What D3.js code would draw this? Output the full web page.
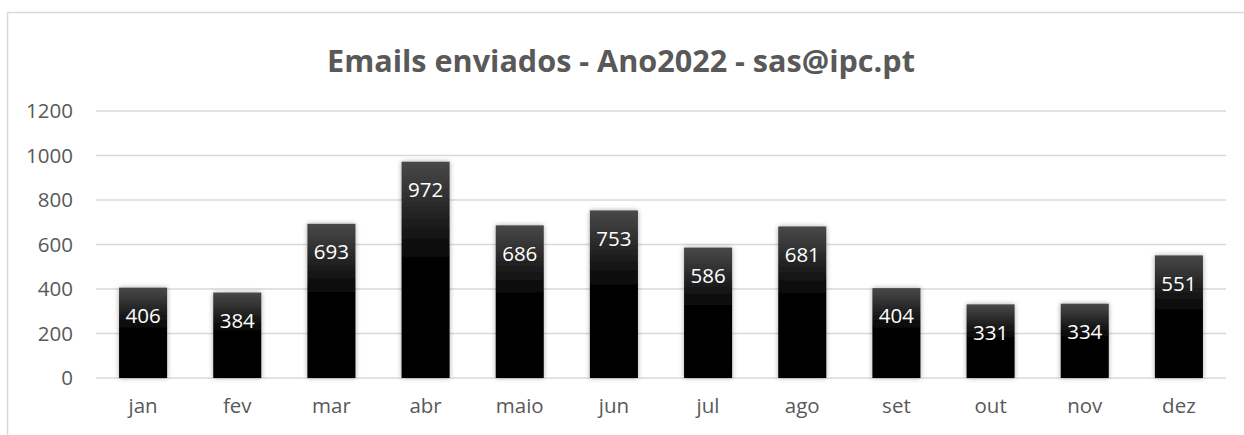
<!DOCTYPE html>
<html><head><meta charset="utf-8">
<script src="https://cdn.jsdelivr.net/npm/d3@7/dist/d3.min.js"></script>
<style>html,body{margin:0;padding:0;background:#fff;}svg{display:block;}</style>
</head><body>
<script>
const months = ["jan","fev","mar","abr","maio","jun","jul","ago","set","out","nov","dez"];
const emails = [406,384,693,972,686,753,586,681,404,331,334,551];
const yTicks = [0,200,400,600,800,1000,1200];
const titleText = "Emails enviados - Ano2022 - sas@ipc.pt";

(function(){
const W = 1244, H = 435;
const svg = d3.select("body").append("svg").attr("width", W).attr("height", H);
const defs = svg.append("defs");
const grad = defs.append("linearGradient").attr("id","barGrad").attr("x1",0).attr("y1",0).attr("x2",0).attr("y2",1);
[[0,"#484848"],[0.1,"#3a3a3a"],[0.2,"#2a2a2a"],[0.3,"#1a1a1a"],[0.4,"#0b0b0b"],[0.5,"#000"],[1,"#000"]]
  .forEach(([o,c])=>grad.append("stop").attr("offset",o).attr("stop-color",c));
const f = defs.append("filter").attr("id","shadow").attr("x","-30%").attr("y","-10%").attr("width","160%").attr("height","120%");
f.append("feDropShadow").attr("dx",0).attr("dy",0).attr("stdDeviation",2.5).attr("flood-color","#000").attr("flood-opacity",0.35);

// chart border
svg.append("rect").attr("x",7.5).attr("y",12.5).attr("width",W).attr("height",H)
  .attr("fill","none").attr("stroke","#d9d9d9").attr("stroke-width",1.5);

const font = "'Open Sans', sans-serif";
const pLeft = 96, pRight = 1226, pTop = 111, pBottom = 378;

const x = d3.scaleBand().domain(months).range([pLeft, pRight]).paddingInner(0.49).paddingOuter(0.245);
const y = d3.scaleLinear().domain([0,1200]).range([pBottom, pTop]);

// gridlines
svg.append("g").selectAll("line").data(yTicks).join("line")
  .attr("x1",pLeft).attr("x2",pRight).attr("y1",d=>y(d)).attr("y2",d=>y(d))
  .attr("stroke","#d9d9d9").attr("stroke-width",1.5);

// y axis labels
const yAxis = svg.append("g").attr("transform",`translate(${pLeft},0)`)
  .call(d3.axisLeft(y).tickValues(yTicks).tickFormat(d3.format("d")).tickSize(0).tickPadding(23));
yAxis.select(".domain").remove();
yAxis.selectAll("text").attr("font-family",font).attr("font-size",20.5).attr("fill","#595959");

// x axis labels
const xAxis = svg.append("g").attr("transform",`translate(0,${pBottom})`)
  .call(d3.axisBottom(x).tickSize(0).tickPadding(20));
xAxis.select(".domain").remove();
xAxis.selectAll("text").attr("font-family",font).attr("font-size",20.5).attr("fill","#595959");

// bars
svg.append("g").selectAll("rect").data(emails).join("rect")
  .attr("x",(d,i)=>x(months[i])).attr("width",x.bandwidth())
  .attr("y",d=>y(d)).attr("height",d=>pBottom-y(d))
  .attr("fill","url(#barGrad)").attr("filter","url(#shadow)");

// value labels
svg.append("g").selectAll("text").data(emails).join("text")
  .attr("x",(d,i)=>x(months[i])+x.bandwidth()/2).attr("y",d=>y(d)+28)
  .attr("dy","0.35em").attr("text-anchor","middle")
  .attr("font-family",font).attr("font-size",20.5).attr("fill","#fff").text(d=>d);

// title
const t = svg.append("text").attr("x",621).attr("y",72).attr("text-anchor","middle")
  .attr("font-family",font).attr("font-weight","bold").attr("font-size",26).attr("fill","#595959").text(titleText);
const tw = t.node().getComputedTextLength();
t.attr("font-size", 26*588/tw);
})();
</script>
</body></html>
